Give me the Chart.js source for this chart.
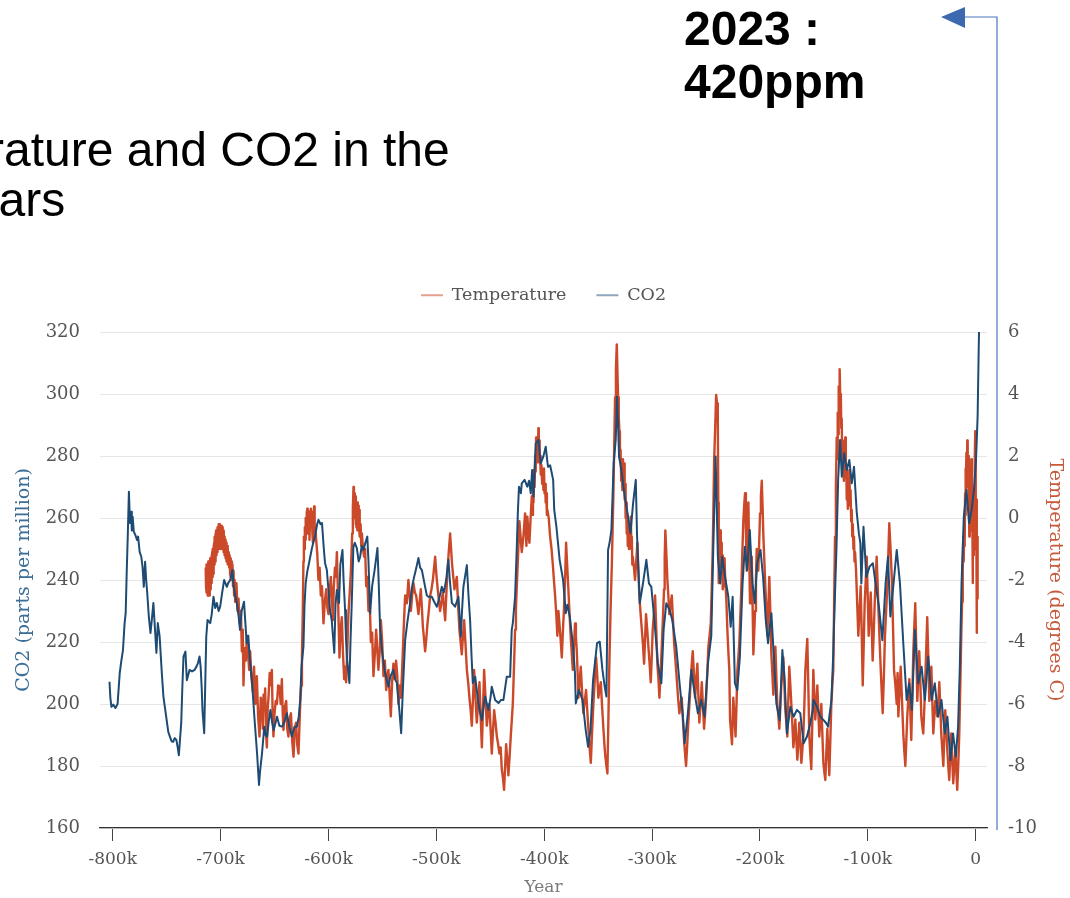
<!DOCTYPE html>
<html>
<head>
<meta charset="utf-8">
<script src="https://cdn.jsdelivr.net/npm/chart.js@4.4.1/dist/chart.umd.min.js"></script>
<style>
  html, body { margin: 0; padding: 0; background: #fff; width: 1070px; height: 898px; overflow: hidden; }
  #wrap { position: absolute; left: 0; top: 0; width: 1070px; height: 898px; }
  .head { position: absolute; white-space: nowrap; font-family: 'Liberation Sans', Arial, sans-serif;
          font-size: 48px; line-height: 48px; color: #000; }
  .bold { font-weight: bold; }
</style>
</head>
<body>
<div id="wrap"><canvas id="chart" width="1070" height="898"></canvas></div>
<div class="head" style="left:-156px; top:126px;">Temperature and CO2 in the</div>
<div class="head" style="left:-327px; top:176px;">last 800,000 years</div>
<div class="head bold" style="left:684px; top:5px;">2023 :</div>
<div class="head bold" style="left:684px; top:58px;">420ppm</div>

<script>
// Ice-core record: [thousands of years relative to present, value]
const co2Record = [
  [-803,207.2],[-802.2,202],[-801.2,199.1],[-799.5,199.8],[-797.5,198.7],[-795.5,200],[-793.5,210],[-792,214],
  [-790.5,217.4],[-789,226],[-788,229.3],[-787,243],[-786,255],[-785,268.5],[-784,258.4],[-783,262],[-782.3,256],
  [-781.5,260.4],[-780.5,255.6],[-779,254.5],[-777.5,252.9],[-776.5,254],[-775,249],[-773.5,247.5],[-772.3,244],
  [-771.2,237.8],[-770,245.9],[-769,240],[-768,235.8],[-766.5,228],[-765,222.9],[-763.8,227],[-762.3,232.6],
  [-760.8,224],[-759.5,216.5],[-758.2,226.1],[-756.5,221.7],[-754.5,210],[-753,202.4],[-750,194.8],[-748.5,191],
  [-747,189.5],[-745.5,188],[-744,187.8],[-742.5,189],[-741,188.4],[-739.8,186],[-738.7,183.5],[-736.5,193.9],
  [-735.5,205],[-734.4,215.3],[-732.6,216.9],[-731.3,207.7],[-728.8,211],[-726.5,210.5],[-724.1,211],[-722.5,212],
  [-721,213.2],[-719.5,215.3],[-718.5,212],[-717.5,205],[-716.8,198],[-715.2,190.6],[-713.3,221.7],[-712.1,227.1],
  [-709.6,226.1],[-708.2,229],[-706.6,234.6],[-705,231],[-703.5,232.6],[-701.8,230],[-700.4,231.4],[-698.5,236],
  [-696.7,240],[-694.2,237.8],[-693,239],[-691.1,240],[-689,243.2],[-688.1,238.4],[-686.5,235],[-685,232.6],
  [-683.2,228],[-682,223.9],[-680.5,230],[-678.3,233],[-677,226],[-675.8,219.6],[-674.3,222],[-673,215],
  [-670.8,206.8],[-668.7,195.9],[-666.2,184.1],[-664.4,173.9],[-663.5,178],[-661.6,184.1],[-659.5,192.7],[-658.3,190],
  [-656.9,189.5],[-655.5,194],[-653.8,198.1],[-652.2,194],[-650.8,191.6],[-649,194],[-647.7,195.9],[-645.5,193],
  [-643.1,192.7],[-641,194],[-638.5,197],[-636.5,193],[-633.9,189.5],[-631.5,192.7],[-629.2,192.7],[-627.5,196],
  [-626.2,201.3],[-625,212],[-623.2,218.5],[-622.2,232],[-621.1,239],[-619.5,243],[-618,245.5],[-615.5,250],
  [-614.2,251.9],[-612.5,254],[-610.5,258],[-609.2,259.4],[-607.3,258],[-606,258.4],[-604.3,250],[-603.2,245.5],
  [-601.5,243.2],[-600,236.8],[-598.5,230],[-597,227.1],[-594.6,216.5],[-593.5,232],[-592.2,236.8],[-590.2,232.6],
  [-589,245],[-587,249.7],[-586,240],[-584.6,230.3],[-583.8,221.7],[-583,215.3],[-580.6,206.8],[-579.6,220],
  [-578.4,232.6],[-576.9,250.7],[-575.6,252],[-573.7,250.3],[-572,246],[-570.6,247.5],[-569.2,251],[-567.6,249.7],
  [-565.8,252],[-564,254],[-562.9,246],[-561.4,229.3],[-559.5,238],[-557.3,243],[-554.6,250.3],[-553.5,240],
  [-552.1,223.9],[-550,216],[-547.5,210],[-544.4,205.6],[-542.5,209],[-539.8,211],[-538.2,208],[-536.6,206.8],
  [-534.3,198],[-532.6,190.6],[-531,205],[-528.9,220.6],[-527,226],[-524.3,232.6],[-522.4,238],[-520.6,241],
  [-518.5,244],[-516.6,247.1],[-515,244],[-513.4,243.2],[-510.4,237.8],[-508.8,235],[-507.3,234.6],[-504.2,234.6],
  [-502,233],[-499.5,231.4],[-497.4,234],[-494.9,237.8],[-493,236],[-490.9,240],[-488.8,246.5],[-487.5,240],
  [-485.6,232.6],[-482.6,231.4],[-479.5,234.6],[-477.3,221.7],[-476.2,230],[-474.9,237.8],[-471.7,244.8],[-470.2,235],
  [-468.7,227.1],[-467.3,215],[-466.2,206.8],[-464,208.8],[-462.3,204],[-461,200.3],[-459.3,197],[-457.8,194.8],
  [-456.2,199],[-454.8,202.4],[-451.7,198.1],[-449.8,202],[-448.6,205.6],[-445.5,201.3],[-442.4,200.3],[-440,201.3],
  [-437.8,201.3],[-434.7,208.8],[-431.6,208.8],[-430.1,223.9],[-429.1,226.1],[-427,234.6],[-425.4,250.7],[-424.4,262],
  [-423.4,270.1],[-421.6,268],[-420.8,271.2],[-418.2,272.3],[-415.7,270.1],[-414,272],[-412.5,268],[-411.2,275.5],
  [-409.9,266.9],[-407.8,284.1],[-405.3,285.2],[-403.3,277.6],[-400.8,279.8],[-398.6,283],[-397,278],[-396.4,276.5],
  [-394.5,277],[-391.7,272.3],[-390.7,262.6],[-388.7,257.2],[-385.7,246.5],[-382.5,240],[-380,229.3],[-378.5,232],
  [-376.3,228.2],[-373.2,218.5],[-371.5,210],[-370.7,200.2],[-367.7,204.5],[-364.5,201.3],[-361.5,191.6],[-359.3,186.2],
  [-357.1,191.6],[-354.7,207.7],[-351,219.6],[-348.5,220.1],[-346,211],[-343.9,205.6],[-342.3,202.4],[-340.8,249.7],
  [-339.4,252],[-337.7,256.1],[-335.6,277.6],[-333.7,285.2],[-332.5,299.1],[-331.5,290],[-330.6,279.8],[-328.4,275.5],
  [-326.5,270],[-325.3,266.9],[-322.2,260.4],[-320,255.1],[-317.6,264.7],[-315.1,272.3],[-313.9,254],[-311.4,232.5],
  [-308.4,238.9],[-305.3,246.5],[-302.9,238.9],[-300.7,237.8],[-297.6,226],[-294.6,213.1],[-291.4,206.7],[-289.3,223.9],
  [-286.8,232.5],[-283.7,230.3],[-281.3,227.1],[-277.6,218.5],[-274.5,206.7],[-271.4,195.9],[-269.8,187.3],[-266.8,197],
  [-263.6,211],[-260.6,203.5],[-257.5,197],[-254.4,201.3],[-251.3,195.9],[-248.2,213.1],[-245.1,222],[-243,254],
  [-241.1,279.8],[-239,247.5],[-236.8,238.9],[-235,247.5],[-232.3,241],[-229.3,234.6],[-227.1,224.9],[-225.3,234.6],
  [-223.2,206.7],[-221,204.5],[-218.6,215.3],[-216.1,238.9],[-214,250.7],[-211.9,243.2],[-209.4,256.1],[-206.9,238.9],
  [-204.8,232.5],[-202.6,245.4],[-199.5,249.7],[-197.1,241],[-194.6,227.1],[-192.5,219.6],[-189.4,229.3],[-187.3,216.4],
  [-184.8,200.2],[-181.7,194.8],[-179.2,217.4],[-177.1,207.7],[-175,190.5],[-171.8,199.1],[-168.8,195.9],[-165.7,198.1],
  [-162.6,197],[-159.5,187.3],[-156.4,189.5],[-153.3,193.8],[-151,198.1],[-150.3,201.3],[-147.2,199.1],[-144,195.9],
  [-141,194.8],[-138.5,193.8],[-136.8,192.7],[-133.7,201.3],[-132,216.4],[-131.3,226],[-129.1,249.7],[-127.5,272.3],
  [-125.7,285.2],[-124.1,273.3],[-121.9,280.9],[-119.5,275.5],[-117.1,278.7],[-114.9,271.2],[-112.8,276.5],[-110.3,262],
  [-108.3,255.1],[-106.9,251.8],[-106,238.9],[-104,257.2],[-101.4,241],[-98.4,244.3],[-95.3,245.4],[-92.8,238.9],
  [-89.7,231.4],[-86.5,220.6],[-83.5,238.9],[-81.3,247.5],[-79.1,228.2],[-76.7,236.8],[-73.2,249.7],[-70.2,238.9],
  [-67.1,219.6],[-64,201.3],[-61.6,206.7],[-59.1,198.1],[-56.3,223.9],[-53.3,206.7],[-50.1,212],[-47.1,201.3],
  [-44,215.3],[-40.9,201.3],[-37.9,206.7],[-34.8,195.9],[-31.7,201.3],[-28.7,190.5],[-26.2,195.9],[-23.4,181.9],
  [-21,190.5],[-18.4,183],[-16.3,192.7],[-14.7,212],[-13.1,238.9],[-11,260.4],[-8.5,269],[-6.1,258.3],
  [-3.8,262.6],[-1.6,269],[0.3,278.7],[1.8,292.7],[2.8,314.2],[3.1,320]
];

const temperatureRecord = [
  [-713.8,-1.6],[-713.5,-2.2],[-713.2,-1.5],[-712.9,-2.4],[-712.6,-1.7],[-712.3,-2.5],[-712,-1.6],[-711.7,-2.3],
  [-711.4,-1.4],[-711.1,-2.4],[-710.8,-1.7],[-710.5,-2.5],[-710.2,-1.5],[-709.9,-2.2],[-709.6,-1.3],[-709.3,-2.3],
  [-709,-1.5],[-708.7,-2.1],[-708.4,-1.2],[-708.1,-2.0],[-707.8,-1.1],[-707.5,-1.9],[-707.2,-1.0],[-706.9,-1.8],
  [-706.6,-0.9],[-706.3,-1.6],[-706,-0.8],[-705.7,-1.5],[-705.4,-0.6],[-705.1,-1.4],[-704.8,-0.5],[-704.5,-1.3],
  [-704.2,-0.4],[-703.9,-1.2],[-703.6,-0.5],[-703.3,-1.1],[-703,-0.3],[-702.7,-1.0],[-702.4,-0.3],[-702.1,-0.9],
  [-701.8,-0.2],[-701.5,-1.0],[-701.2,-0.4],[-700.9,-0.8],[-700.6,-0.2],[-700.3,-0.9],[-700,-0.3],[-699.7,-1.0],
  [-699.4,-0.4],[-699.1,-0.9],[-698.8,-0.25],[-698.5,-0.8],[-698.2,-0.3],[-697.9,-1.0],[-697.6,-0.5],[-697.3,-1.1],
  [-697,-0.4],[-696.7,-0.9],[-696.4,-0.6],[-696.1,-1.2],[-695.8,-0.7],[-695.5,-1.3],[-695.2,-0.8],[-694.9,-1.2],
  [-694.6,-0.8],[-694.3,-1.4],[-694,-0.9],[-693.6,-1.5],[-693.2,-1.0],[-692.8,-1.5],[-692.4,-1.1],[-692,-1.6],
  [-691.6,-1.2],[-691.2,-1.8],[-690.8,-1.3],[-690.4,-1.9],[-690,-1.4],[-689.5,-2.0],[-689,-1.5],[-688.5,-2.2],
  [-688,-1.7],[-687.5,-2.5],[-687,-2.0],[-686.5,-2.7],[-686,-2.2],[-685.3,-2.1],[-684.3,-3.0],
  [-683.4,-2.6],[-682.3,-3.4],[-681.2,-3.0],[-680.3,-4.3],[-679.4,-3.6],[-678.8,-5.4],[-677.7,-4.2],[-676.6,-4.6],
  [-675.6,-3.8],[-674.5,-4.4],[-673.5,-4.9],[-672.6,-4.3],[-671.5,-5.1],[-670.1,-5.6],[-669,-4.8],[-667.8,-6.0],
  [-666.4,-5.1],[-665.2,-6.4],[-663.9,-7.05],[-662.8,-5.8],[-661.7,-6.0],[-660.9,-6.8],[-660.2,-5.7],[-659.4,-6.2],
  [-658.7,-5.5],[-657.8,-7.0],[-657.1,-7.4],[-656.3,-6.1],[-655.6,-5.8],[-654.5,-5.0],[-653.5,-5.4],[-652.5,-4.9],
  [-651.7,-6.4],[-651,-7.05],[-650,-6.3],[-648.9,-5.9],[-647.8,-6.0],[-646.6,-5.4],[-645.4,-5.44],[-644.3,-6.0],
  [-643.2,-5.2],[-642.4,-6.3],[-641.7,-6.84],[-640.5,-6.1],[-639.2,-5.9],[-638.2,-6.8],[-637.1,-7.05],[-636,-6.5],
  [-634.8,-6.3],[-633.6,-7.2],[-632.4,-7.7],[-631.3,-6.8],[-630,-6.6],[-629,-7.3],[-627.8,-7.6],[-626.8,-6.6],
  [-626.2,-6.0],[-625.3,-5.4],[-624.6,-4.5],[-623.8,-3.0],[-623.2,-1.4],[-622.8,-0.6],[-622.3,-1.0],[-621.9,-0.3],
  [-621.6,-0.7],[-621.1,0.0],[-620.7,-0.5],[-620.3,0.2],[-620,-0.2],[-619.6,0.3],[-619.2,-0.5],[-618.8,0.1],
  [-618.5,-0.4],[-618,0.2],[-617.6,-0.7],[-617,0.1],[-616.3,0.3],[-615.8,-0.3],[-615.4,0.2],[-614.9,-0.5],
  [-614.4,-0.8],[-613.8,0.1],[-613.3,0.37],[-612.8,-0.5],
  [-612.3,-0.3],[-611.4,-0.7],[-610.3,-1.2],[-609.3,-2.0],[-608.2,-1.6],[-607.1,-2.5],[-606,-2.2],[-604.6,-3.4],
  [-603.4,-2.7],[-602.1,-2.3],[-601,-2.9],[-600,-3.1],[-599,-2.4],[-597.8,-1.9],[-596.8,-2.6],[-595.9,-3.3],
  [-595,-2.2],[-594,-1.6],[-593.1,-1.9],[-592.2,-1.1],[-591.2,-2.5],[-590.5,-3.5],[-589.8,-4.5],[-588.7,-3.6],
  [-587.6,-3.2],[-586.5,-4.4],[-585.4,-5.2],[-584.5,-4.8],[-583.6,-5.3],[-582.5,-4.2],[-581.5,-3.1],[-580.3,-2.4],
  [-579.2,-1.7],[-578,-0.5],[-577.4,0.3],[-576.8,1.0],[-576.4,0.2],[-576,0.8],[-575.6,0.0],[-575.2,0.6],
  [-574.8,-0.2],[-574.5,0.7],[-574.1,-0.3],[-573.7,0.3],[-573.2,-0.4],[-572.8,0.5],[-572.5,0.0],[-572,0.4],
  [-571.6,-0.3],[-571.3,0.26],[-570.8,-0.6],[-570.2,-0.2],[-569.6,-0.9],
  [-569,-0.5],[-568,-1.0],[-566.9,-1.25],[-566,-1.0],[-565,-2.2],[-564,-1.9],
  [-562.9,-3.0],[-561.8,-2.6],[-560.7,-4.0],[-559.5,-3.7],[-558.3,-5.1],[-557,-4.4],[-555.8,-3.6],[-554.8,-4.2],
  [-553.7,-4.9],[-552.5,-4.3],[-551.4,-3.3],[-550.2,-4.0],[-549,-5.1],[-547.7,-4.6],[-546.5,-5.55],[-545.5,-5.1],
  [-544.4,-4.9],[-543.3,-5.7],[-542.2,-6.4],[-541,-5.3],[-539.8,-4.7],[-538.5,-5.2],[-537.3,-4.6],[-536.2,-5.1],
  [-535.1,-6.0],[-534,-5.4],[-532.9,-5.8],[-531.7,-4.9],[-530.5,-3.8],[-529.7,-3.1],[-528.9,-2.5],[-527.3,-2.75],
  [-525.9,-2.0],[-524.7,-2.5],[-523.6,-3.0],[-522.4,-2.5],[-521.2,-2.1],[-519.9,-2.4],[-518.7,-2.5],[-517.6,-2.8],
  [-516.6,-3.1],[-515.5,-2.7],[-514.4,-2.3],[-513.4,-2.9],[-512.5,-3.5],[-511.4,-3.9],[-510.4,-4.3],[-509.3,-3.9],
  [-508.2,-3.4],[-507,-3.0],[-505.7,-2.5],[-504.5,-2.3],[-503.2,-2.0],[-502.1,-1.6],[-501.1,-1.25],[-500,-1.8],
  [-499,-2.2],[-497.8,-2.6],[-496.5,-3.0],[-495.2,-2.7],[-494,-2.4],[-492.9,-2.9],[-491.8,-3.3],[-490.8,-2.5],
  [-489.7,-1.7],[-488.5,-1.1],[-487.2,-0.5],[-486.3,-1.0],[-485.4,-1.5],[-484.3,-1.9],[-483.2,-2.3],[-482.1,-2.1],
  [-481,-1.9],[-479.8,-2.8],[-478.6,-3.6],[-477.5,-4.0],[-476.4,-4.4],[-475.3,-3.8],[-474.2,-3.3],[-472.9,-4.1],
  [-471.7,-4.9],[-470.5,-5.3],[-469.3,-5.8],[-468.2,-6.2],[-467.1,-6.7],[-466,-5.8],[-465,-4.9],[-463.7,-5.8],
  [-462.5,-6.6],[-461.2,-6.0],[-460,-5.3],[-458.9,-6.4],[-457.8,-7.4],[-456.7,-6.1],[-455.7,-4.9],[-454.4,-5.8],
  [-453.2,-6.7],[-452,-6.3],[-450.8,-6.0],[-449.7,-6.8],[-448.6,-7.6],[-447.5,-6.9],[-446.4,-6.2],[-445.1,-6.6],
  [-443.9,-7.05],[-442.7,-7.3],[-441.5,-7.6],[-440.4,-7.4],[-439.3,-8.1],[-438.2,-8.4],[-437.2,-8.77],[-436.2,-8.0],
  [-435.3,-7.3],[-434.2,-7.8],[-433.2,-8.3],[-432.1,-7.7],[-431,-7.05],[-430,-6.5],[-429.1,-6.0],[-428,-4.8],
  [-427,-3.6],[-426.2,-2.9],[-425.4,-2.2],[-424.2,-1.2],[-423,-0.1],[-421.9,-0.6],[-420.8,-1.1],[-419.3,-0.6],
  [-417.7,0.15],[-416.5,-0.9],[-415.6,0.04],[-414.6,-0.5],[-413.7,-0.8],[-412.6,0.0],[-411.5,0.7],[-411,0.1],
  [-410.4,1.0],[-409.9,0.5],[-409.4,1.55],[-408.9,1.0],[-408.4,2.0],[-407.9,1.5],[-407.5,2.6],[-407,1.9],
  [-406.4,2.3],[-405.9,1.8],[-405.4,2.9],[-405,2.2],[-404.6,2.5],[-404.2,1.8],[-403.8,2.0],[-403.2,1.4],
  [-402.5,1.7],[-401.9,1.1],[-401.3,1.4],[-400.7,0.9],[-400.2,1.6],[-399.7,0.8],[-399.2,1.1],[-398.6,0.5],
  [-398.1,0.8],[-397.5,0.1],[-397,0.26],[-395.8,0.0],[-394.5,-0.6],[-393.2,-1.0],
  [-392,-1.5],[-391,-2.0],[-389.9,-2.5],[-388.8,-3.1],[-387.8,-3.8],[-386.8,-3.0],[-385.9,-3.4],[-384.8,-3.9],
  [-383.7,-4.5],[-382.6,-3.6],[-381.6,-2.9],[-380.6,-1.9],[-379.7,-0.8],[-378.6,-1.6],[-377.6,-2.3],[-376.5,-3.1],
  [-375.3,-3.9],[-374.4,-4.4],[-373.5,-4.9],[-372.4,-4.1],[-371.4,-3.4],[-370.6,-3.8],[-369.8,-4.3],[-369,-5.0],
  [-368.3,-5.8],[-367.2,-5.3],[-366.1,-4.8],[-364.9,-5.6],[-363.7,-6.3],[-362.4,-5.9],[-361.2,-5.55],[-360.1,-6.2],
  [-359,-6.8],[-357.9,-7.4],[-356.8,-7.9],[-355.6,-6.9],[-354.4,-6.0],[-353.1,-5.2],[-351.9,-4.5],[-350.8,-5.1],
  [-349.8,-5.8],[-348.6,-5.5],[-347.5,-5.3],[-346.3,-6.1],[-345.1,-6.8],[-344.2,-7.3],[-343.3,-7.7],[-342.3,-8.0],
  [-341.4,-8.24],[-340.5,-6.5],[-339.6,-4.7],[-338.5,-3.0],[-337.3,-1.5],[-336.6,-0.4],[-335.9,0.7],[-335.1,2.3],
  [-334.3,3.9],[-333.5,4.8],[-332.7,5.6],[-332.1,4.7],[-331.5,3.9],[-330.9,3.3],[-330.3,2.8],[-329.8,1.9],
  [-329.2,2.2],[-328.6,1.2],[-328.1,1.55],[-327.5,0.9],[-327,1.9],[-326.4,1.0],[-325.9,1.76],[-325.4,0.6],
  [-325,1.1],[-324.5,0.0],[-324.1,0.5],[-323.5,-0.5],[-323,0.0],[-322.5,-0.9],[-322,-0.4],[-321.4,-1.0],
  [-320.8,-0.2],[-320.3,-0.8],[-319.7,0.04],[-319.2,-1.0],[-318.8,-0.6],[-318.3,-1.5],[-317.9,-1.25],
  [-316.8,-1.6],[-315.8,-2.0],[-314.7,-1.4],[-313.6,-0.8],[-312.7,-1.7],
  [-311.8,-2.5],[-310.6,-3.1],[-309.5,-3.6],[-308.4,-4.1],[-307.4,-4.7],[-306.5,-3.9],[-305.6,-3.1],[-304.5,-3.6],
  [-303.4,-4.15],[-302.3,-4.7],[-301.2,-5.3],[-300.3,-4.5],[-299.4,-3.6],[-298.3,-3.1],[-297.2,-2.5],[-296.1,-3.6],
  [-295.1,-4.7],[-294.1,-5.2],[-293.2,-5.8],[-292.1,-5.0],[-291,-4.15],[-289.9,-3.2],[-288.9,-2.3],[-288.3,-1.3],
  [-287.7,-0.4],[-286.7,-1.2],[-285.8,-2.0],[-284.9,-2.5],[-284,-3.1],[-282.8,-2.8],[-281.7,-2.5],[-280.6,-3.3],
  [-279.6,-4.0],[-278.3,-4.6],[-277.1,-5.2],[-275.9,-5.8],[-274.7,-6.3],[-273.6,-6.0],[-272.5,-5.8],[-271.4,-6.5],
  [-270.3,-7.2],[-269.4,-7.6],[-268.5,-8.0],[-267.4,-7.3],[-266.4,-6.6],[-265.2,-5.9],[-264.1,-5.2],[-263.2,-4.7],
  [-262.3,-4.3],[-261.2,-5.0],[-260.1,-5.8],[-259,-5.2],[-258,-4.7],[-257.1,-5.7],[-256.2,-6.6],[-255,-6.0],
  [-253.9,-5.3],[-252.8,-6.1],[-251.8,-6.8],[-250.8,-6.3],[-249.9,-5.8],[-248.8,-5.0],[-247.8,-4.15],[-246.7,-3.8],
  [-245.6,-3.4],[-244.6,-2.2],[-243.7,-0.9],[-243.1,0.4],[-242.5,1.8],[-241.5,2.9],[-240.6,3.97],[-239.8,3.7],
  [-239.1,3.4],[-238.6,0.5],[-238.2,-2.1],[-237.7,-0.9],[-237.2,-1.6],[-236.8,-0.4],[-236.3,-1.2],[-235.8,-0.8],
  [-235.4,-1.8],[-234.9,-1.2],[-234.5,-2.3],[-233.9,-1.4],[-233.4,-2.2],[-232.8,-1.3],[-232.3,-1.9],
  [-231.2,-2.6],[-230.2,-3.6],[-229.3,-4.3],[-228.4,-4.9],[-227.7,-6.5],[-226.8,-6.9],[-225.9,-7.3],
  [-224.7,-5.8],[-223.6,-6.4],[-222.6,-7.05],[-221.7,-6.0],[-220.9,-4.9],[-220,-4.5],[-219.1,-4.0],[-218.1,-3.1],
  [-217.2,-2.2],[-216.3,-1.1],[-215.4,-0.1],[-214.6,0.4],[-213.8,0.8],[-213,-0.4],[-212.2,-1.7],[-211.4,-0.6],
  [-210.7,0.5],[-210,-1.1],[-209.2,-2.75],[-208.4,-2.0],[-207.6,-1.25],[-206.8,-2.8],[-206.1,-4.4],[-205.3,-3.7],
  [-204.5,-3.0],[-203.7,-2.0],[-203,-1.0],[-202.2,-1.4],[-201.5,-1.7],[-200.7,-0.8],[-199.9,0.15],[-199.1,0.7],
  [-198.3,1.2],[-197.5,0.3],[-196.8,-0.6],[-195.9,-1.4],[-195,-2.2],[-194,-3.0],[-193.1,-3.8],[-192.2,-2.9],
  [-191.3,-1.9],[-190.3,-3.1],[-189.4,-4.4],[-188.5,-5.0],[-187.6,-5.7],[-186.6,-4.9],[-185.7,-4.15],[-184.8,-5.1],
  [-183.9,-6.0],[-182.9,-6.4],[-182,-6.8],[-181.1,-6.1],[-180.2,-5.4],[-179.2,-5.0],[-178.3,-4.5],[-177.4,-5.3],
  [-176.5,-6.2],[-175.5,-6.6],[-174.6,-7.05],[-173.7,-5.9],[-172.8,-4.8],[-171.8,-5.4],[-170.9,-6.0],[-169.9,-6.7],
  [-169,-7.4],[-168.1,-7.0],[-167.2,-6.5],[-166.2,-7.2],[-165.3,-7.8],[-164.4,-7.2],[-163.5,-6.6],[-162.5,-7.3],
  [-161.6,-7.9],[-160.7,-7.5],[-159.8,-7.05],[-158.8,-6.0],[-157.9,-4.9],[-157,-4.4],[-156.1,-3.9],[-155.1,-5.5],
  [-154.2,-7.05],[-153.3,-7.6],[-152.4,-8.1],[-151.4,-6.5],[-150.5,-4.9],[-149.6,-5.7],[-148.7,-6.5],[-147.7,-6.0],
  [-146.8,-5.4],[-145.9,-6.2],[-145,-7.05],[-144,-6.5],[-143.1,-6.0],[-142.2,-6.9],[-141.2,-7.9],[-140.3,-8.2],
  [-139.4,-8.45],[-138.5,-7.6],[-137.5,-6.8],[-136.6,-7.6],[-135.7,-8.3],[-134.7,-7.1],[-133.8,-6.0],[-132.9,-5.4],
  [-132,-4.9],[-131.2,-2.7],[-130.4,-0.6],[-129.6,1.0],[-128.8,2.6],[-128.3,1.9],[-127.9,3.4],[-127.4,2.7],
  [-127,4.24],[-126.7,3.5],[-126.4,4.6],[-126.1,3.8],[-125.8,4.8],[-125.4,3.6],[-125,4.0],[-124.6,2.9],
  [-124.2,3.2],[-123.8,2.2],[-123.4,2.5],[-123,1.5],[-122.7,1.8],[-122.2,1.2],[-121.8,2.2],[-121.3,1.5],
  [-120.9,2.6],[-120.4,1.3],[-120,1.7],[-119.5,0.6],[-119,0.9],[-118.5,0.3],[-118.1,1.2],[-117.6,0.5],
  [-117.1,1.55],[-116.5,0.4],[-116,0.9],[-115.4,-0.1],[-114.9,0.26],[-114.4,-0.6],[-113.9,-0.2],[-113.3,-1.0],
  [-112.8,-0.6],[-112.3,-1.4],[-111.8,-1.1],
  [-110.9,-1.7],[-109.8,-2.8],[-108.8,-3.8],[-107.7,-3.0],[-106.6,-2.2],[-105.6,-3.8],[-104.7,-5.4],[-103.8,-4.1],
  [-102.9,-2.75],[-101.9,-2.0],[-101,-1.25],[-100.1,-2.5],[-99.2,-3.8],[-98.2,-3.1],[-97.3,-2.4],[-96.4,-3.5],
  [-95.5,-4.6],[-94.5,-3.7],[-93.6,-2.75],[-92.7,-2.0],[-91.8,-1.25],[-90.8,-2.2],[-89.9,-3.2],[-88.9,-4.1],
  [-88,-4.9],[-87.1,-5.6],[-86.2,-6.3],[-85.1,-5.1],[-84.1,-3.8],[-83,-3.0],[-81.9,-2.2],[-81,-1.2],
  [-80.1,-0.17],[-78.9,-1.0],[-77.8,-1.9],[-76.7,-3.4],[-75.7,-4.9],[-74.4,-5.4],[-73.2,-6.0],[-72.4,-5.0],
  [-71.7,-6.4],[-70.6,-5.6],[-69.5,-4.8],[-68.3,-5.9],[-67.1,-6.95],[-66.2,-7.5],[-65.2,-8.0],[-64.3,-7.2],
  [-63.4,-6.4],[-62.4,-5.8],[-61.5,-5.2],[-60.6,-6.2],[-59.7,-7.16],[-58.7,-5.7],[-57.8,-4.3],[-56.9,-3.5],
  [-56,-2.75],[-55,-4.3],[-54.1,-5.9],[-53.2,-5.1],[-52.3,-4.3],[-51.3,-5.3],[-50.4,-6.4],[-49.5,-6.7],
  [-48.6,-6.95],[-47.6,-6.1],[-46.7,-5.2],[-45.8,-4.2],[-44.9,-3.2],[-43.9,-4.5],[-43,-5.9],[-42,-5.3],
  [-41.1,-4.8],[-40.2,-5.9],[-39.3,-6.95],[-38.3,-6.4],[-37.4,-5.9],[-36.5,-6.1],[-35.6,-6.4],[-34.6,-5.9],
  [-33.7,-5.3],[-32.8,-6.1],[-31.9,-6.95],[-30.9,-7.5],[-30,-8.0],[-29.1,-7.1],[-28.2,-6.2],[-27.2,-6.8],
  [-26.3,-7.5],[-25.4,-8.0],[-24.5,-8.45],[-23.5,-7.7],[-22.6,-6.95],[-21.7,-7.8],[-20.8,-8.56],[-19.8,-8.0],
  [-18.9,-7.5],[-18,-8.1],[-17.1,-8.77],[-16.1,-7.9],[-15.2,-6.95],[-14.2,-5.3],[-13.3,-3.7],[-12.6,-2.7],
  [-12,-1.7],[-11.5,-0.6],[-11.1,-1.4],[-10.6,-0.2],[-10.2,-0.9],[-9.8,0.8],[-9.6,0.1],[-9.3,1.6],
  [-9,0.6],[-8.6,2.1],[-8.2,1.0],[-7.8,2.5],[-7.4,1.4],[-7,2.0],[-6.6,0.5],[-6.2,1.2],
  [-5.9,-0.6],[-5.5,1.0],[-5.2,0.2],[-4.8,1.6],[-4.4,0.8],[-4,1.9],[-3.6,-0.4],[-3.2,0.6],
  [-2.8,-2.1],[-2.5,-0.4],[-2.2,-1.2],[-1.9,0.3],[-1.6,-0.5],[-1.3,1.0],[-1,0.2],[-0.7,1.9],
  [-0.4,2.8],[-0.1,0.4],[0.2,-1.0],[0.5,0.6],[0.9,-3.7],[1.2,-1.2],[1.4,-2.6],[1.7,-0.6],[1.9,-1.4]
];

// Axis ticks (thousands of years) and value ranges
const yearTicks = [-800, -700, -600, -500, -400, -300, -200, -100, 0];
const yearRange = [-811.8, 10.5];
const co2Range = [160, 320];
const co2Step = 20;
const tempRange = [-10, 6];
const tempStep = 2;

const seriesLabels = { temperature: 'Temperature', co2: 'CO2' };
const axisTitles = { x: 'Year', co2: 'CO2 (parts per million)', temp: 'Temperature (degrees C)' };

const TEMP_COLOR = '#cb4829';
const CO2_COLOR = '#1e4b73';
const SERIF = "'DejaVu Serif', serif";

const toPoints = rec => rec.map(([x, y]) => ({ x, y }));

// Callout line running from the chart's base up to the "2023 : 420ppm" note
const calloutArrow = {
  id: 'calloutArrow',
  afterDraw(chart) {
    const { ctx, chartArea } = chart;
    const x = chartArea.right + 10;
    ctx.save();
    ctx.strokeStyle = '#4a76be';
    ctx.lineWidth = 1.2;
    ctx.beginPath();
    ctx.moveTo(x, chartArea.bottom + 2);
    ctx.lineTo(x, 17);
    ctx.lineTo(964, 17);
    ctx.stroke();
    ctx.fillStyle = '#3d69b0';
    ctx.beginPath();
    ctx.moveTo(941, 17);
    ctx.lineTo(965, 7);
    ctx.lineTo(965, 28);
    ctx.closePath();
    ctx.fill();
    ctx.restore();
  }
};

// Legend spacing below the labels, and centring of the legend over the plot area
const legendPlacement = {
  id: 'legendPlacement',
  beforeInit(chart) {
    const legend = chart.legend;
    if (!legend) return;
    const fit = legend.fit.bind(legend);
    legend.fit = function () { fit(); this.height += 18; };
  },
  beforeDraw(chart) {
    const legend = chart.legend;
    if (!legend) return;
    legend.left = chart.chartArea.left;
    legend.right = chart.chartArea.right;
  }
};

new Chart(document.getElementById('chart').getContext('2d'), {
  type: 'line',
  data: {
    datasets: [
      {
        label: seriesLabels.co2,
        data: toPoints(co2Record),
        yAxisID: 'yCO2',
        borderColor: CO2_COLOR,
        borderWidth: 2,
        pointRadius: 0,
        borderJoinStyle: 'round',
        tension: 0
      },
      {
        label: seriesLabels.temperature,
        data: toPoints(temperatureRecord),
        yAxisID: 'yTemp',
        borderColor: TEMP_COLOR,
        borderWidth: 2.4,
        pointRadius: 0,
        borderJoinStyle: 'round',
        tension: 0
      }
    ]
  },
  options: {
    responsive: false,
    animation: false,
    devicePixelRatio: 1,
    layout: { padding: { top: 256.5, left: 5, right: 0, bottom: 0 } },
    plugins: {
      tooltip: { enabled: false },
      legend: {
        position: 'top',
        labels: {
          usePointStyle: true,
          pointStyle: 'line',
          pointStyleWidth: 22,
          padding: 30,
          color: '#555',
          font: { family: SERIF, size: 17.5 },
          generateLabels() {
            return [
              { text: seriesLabels.temperature, strokeStyle: '#e3a08f', fillStyle: '#e3a08f', lineWidth: 2, pointStyle: 'line', datasetIndex: 1, fontColor: '#555' },
              { text: seriesLabels.co2, strokeStyle: '#8ea6bc', fillStyle: '#8ea6bc', lineWidth: 2, pointStyle: 'line', datasetIndex: 0, fontColor: '#555' }
            ];
          }
        }
      }
    },
    scales: {
      x: {
        type: 'linear',
        min: yearRange[0],
        max: yearRange[1],
        afterBuildTicks(scale) { scale.ticks = yearTicks.map(v => ({ value: v })); },
        afterFit(scale) { scale.height = 70; },
        ticks: {
          autoSkip: false,
          maxRotation: 0,
          padding: 8,
          color: '#555',
          font: { family: SERIF, size: 17 },
          callback: v => (v === 0 ? '0' : v + 'k')
        },
        grid: { drawOnChartArea: false, drawTicks: true, tickLength: 13, color: '#444', lineWidth: 1 },
        border: { display: true, color: '#333', width: 1.2 },
        title: { display: true, text: axisTitles.x, color: '#7a7a7a', font: { family: SERIF, size: 17 }, padding: { top: 4, bottom: 0 } }
      },
      yCO2: {
        type: 'linear',
        position: 'left',
        min: co2Range[0],
        max: co2Range[1],
        afterFit(scale) { scale.width = 95; },
        ticks: { stepSize: co2Step, padding: 20, color: '#555', font: { family: SERIF, size: 18 } },
        grid: { color: '#e6e6e6', lineWidth: 1, drawTicks: false },
        border: { display: false },
        title: { display: true, text: axisTitles.co2, color: '#3c6e96', font: { family: SERIF, size: 19 }, padding: { top: 8, bottom: 4 } }
      },
      yTemp: {
        type: 'linear',
        position: 'right',
        min: tempRange[0],
        max: tempRange[1],
        afterFit(scale) { scale.width = 83; },
        ticks: { stepSize: tempStep, padding: 21, color: '#555', font: { family: SERIF, size: 18 } },
        grid: { drawOnChartArea: false, drawTicks: false },
        border: { display: false },
        title: { display: true, text: axisTitles.temp, color: '#c85a3c', font: { family: SERIF, size: 19 }, padding: { top: 3.6, bottom: 4 } }
      }
    }
  },
  plugins: [calloutArrow, legendPlacement]
});
</script>
</body>
</html>
